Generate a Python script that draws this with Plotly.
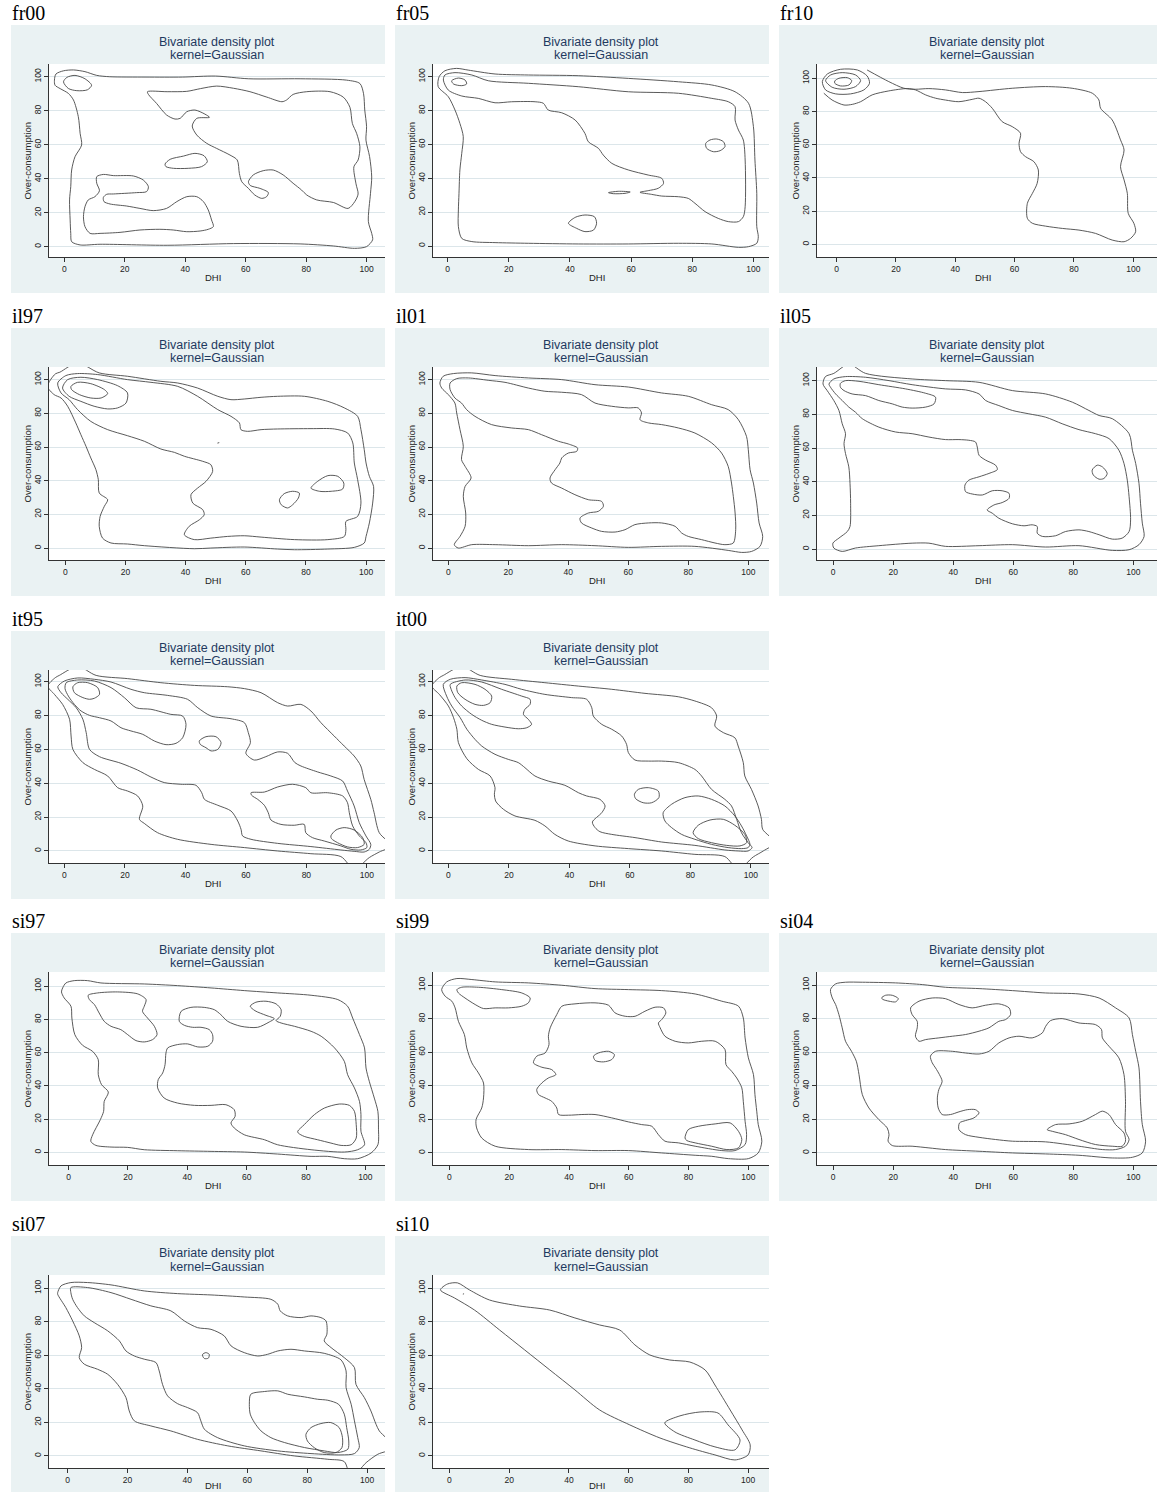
import plotly.graph_objects as go

W, H = 1157, 1492

# ---------------- data: contour paths (DHI, Over-consumption) ----------------
fr00 = [
    [(-2.8,101.6),(-0.3,103.5),(3,104),(6.8,103),(10.7,100.8),(15,100),(27,99.8),(39,99.8),(50,100.4),(61,98.8),(78,98.8),(93.4,98),(97.8,96),(99,90),(99.4,80.4),(100,70.6),(99.8,62.7),(101,53),(101.7,41),(101.3,31.4),(100.6,14.7),(101.7,7.8),(102,4),(100,0),(96,-1),(89,0.4),(78,1.6),(56,1.8),(34,0.8),(11.8,1.4),(5.2,1),(2.4,2.9),(2.1,7.8),(1.9,15.7),(1.7,27.5),(2.1,35.3),(2.4,45.1),(3.5,52.9),(5.7,59.8),(5.2,66.7),(4.6,76.5),(3,86.3),(1.3,90.2),(-1.4,93),(-3.1,95),(-3.3,98),(-2.8,101.6)],
    [(-0.3,97),(0.8,99.6),(3.5,100.8),(6.8,98.8),(9,95),(7.6,92.3),(4.1,91.8),(1.3,93.1),(-0.3,97)],
    [(27.5,91.2),(34,91.2),(40.5,91.4),(45,93),(50.4,94.5),(56,93.2),(61.4,91.2),(67,88),(72,85.3),(73.5,86.3),(75.7,89.6),(80.2,91.2),(87.9,91.2),(92.3,88),(94.5,82),(95.3,72.5),(96.7,66.7),(97.8,58.8),(97.2,51),(95.8,47),(96.5,37),(97.2,31),(96.1,26.5),(93.9,22.5),(89,26),(83.5,27.5),(80.2,30.4),(78.5,33.3),(75.7,37.3),(72.4,42.2),(69.1,45.1),(65.8,44.7),(62.5,42.2),(60.9,38.2),(61.5,36),(64.7,34.3),(67.5,31.8),(66.9,29.4),(65.3,28.4),(63,30.4),(60.9,34.3),(58.7,38.2),(57.9,43.1),(57.2,51),(54.8,53.9),(50.4,57.8),(47.1,60.8),(43.8,65.7),(42.3,71),(43.8,75.5),(48,76.1),(46.5,78),(43.2,80.4),(40.5,79.4),(38.3,75.5),(36.6,75.1),(33.8,77.5),(30.5,84.3),(27.8,89.6),(27.5,91.2)],
    [(33.3,48.6),(35,51.4),(39.4,53.3),(43.2,54.9),(46.2,53.5),(47.3,50),(45.4,47.1),(41,46.1),(36.1,46.1),(33.6,47.1),(33.3,48.6)],
    [(10.7,41.2),(12.9,42.5),(16.2,41.8),(22.8,41.6),(26.1,39.2),(27.8,35.3),(27.2,32.4),(23.9,31.8),(16.2,31),(14,30.8),(12.9,29),(13.1,26.5),(15.1,25.1),(20.6,23.9),(25,22.5),(29.4,21.2),(33.8,22.5),(37.2,26.5),(40.5,29.4),(43.8,29.4),(46,26.5),(47.6,21.6),(48.7,15.7),(49.3,11.8),(47.6,10.2),(44.9,9.2),(40.5,8.8),(36,9.8),(31.6,10.2),(25,9.8),(18.4,8.4),(11.8,7.8),(8.5,7.8),(6.8,11.8),(6.3,17.6),(6.8,23.5),(7.9,27.5),(10.1,29.4),(11.6,32.9),(10.7,37.3),(10.7,41.2)],
]

fr05 = [
    [(-3.1,94.1),(-2.8,100),(-0.9,103.5),(2.9,104.9),(6.7,103.9),(15.5,101.6),(26.4,101),(42.7,100.6),(59.1,99),(75.5,97),(86.4,95.1),(94,91.1),(98.4,84.3),(100,70.5),(100.5,50.8),(101.1,31.1),(101.1,11.4),(101.6,5.5),(101.1,1.6),(98.4,-0.4),(95.1,-0.8),(86.4,1.2),(75.5,1.6),(59.1,1.2),(42.7,1.2),(26.4,1.6),(15.5,2),(7.9,2.6),(4.6,4.5),(3.5,11.4),(3.5,21.3),(3.7,31.1),(4,44.9),(4.6,54.7),(5.1,64.6),(4,72.4),(2.4,80.3),(0.2,88.2),(-3.1,94.1)],
    [(-1.4,98),(-0.9,101),(2.4,102.4),(7.9,101),(13.3,97.6),(26.4,96.1),(42.7,94.1),(59.1,91.1),(75.5,90.2),(86.4,87.2),(91.8,85.2),(94,82.3),(94,74.4),(95.1,68.5),(96.7,62.6),(97.3,50.8),(97.3,23.2),(96.7,17.3),(95.1,14.4),(91.8,14.4),(88.5,16.3),(84.2,20.3),(80.9,25.2),(78.7,28.1),(75.5,29.1),(70,29.5),(66.7,30.5),(62.9,31.7),(65.6,32.7),(68.9,34.1),(70.6,37),(70,40),(65.6,41.9),(59.1,44.9),(53.7,48.8),(50.9,53.7),(49.3,57.7),(46,61.6),(44.9,66.5),(41.7,74.4),(37.3,78.7),(32.9,80.3),(31.3,84.3),(28.6,85.2),(20.9,85.2),(15.5,84.6),(10,87.2),(4.6,88.6),(0.2,92.1),(-1.4,98)],
    [(1.3,97.6),(3.5,99.2),(5.7,98),(6.2,95.7),(4.6,94.7),(1.9,95.7),(1.3,97.6)],
    [(84.4,60.6),(85.8,62.6),(88,63.2),(90.2,61.6),(90.7,58.7),(89.1,56.3),(86.9,55.7),(84.7,57.7),(84.4,60.6)],
    [(39.5,13.4),(41.7,16.9),(44.9,18.3),(48,17.3),(48.7,13.4),(47.7,9.4),(44.9,8.5),(42.2,10.4),(39.5,13.4)],
    [(52.6,31.5),(55.8,32.3),(59.7,31.9),(58,31.1),(54.2,30.9),(52.6,31.5)],
]

fr10 = [
    [(-0.6,98.4),(0.8,100),(3.6,100.4),(5.1,98.6),(4.2,96),(1.3,95.4),(-0.6,97),(-0.6,98.4)],
    [(-3.7,98.6),(-2,102),(1.9,103.4),(6.4,102),(8.1,98.6),(6.4,95),(2.5,93.4),(-1.5,94.6),(-3.7,98.6)],
    [(-4.8,98),(-3.1,102.6),(1.3,105.4),(7,105),(10.3,101.4),(11.1,97),(9.2,93),(4.7,90.6),(-0.3,90.6),(-3.7,93),(-4.8,98)],
    [(10.3,105),(17.6,98),(22.7,94),(26.6,93.4),(31.1,93.8),(36.7,93),(42.4,91.4),(48,92),(59.2,94),(70.4,95),(79.4,94),(86.2,91),(88.4,87),(89,81.9),(92.9,74.9),(95.7,62.9),(96.9,56.8),(95.7,46.8),(96.9,38.8),(98,30.7),(98.3,18.7),(100.2,12.7),(100.8,7.6),(99.1,3.6),(96.9,1.6),(92.9,2.6),(87.3,6.6),(81.7,8.6),(76.1,9.6),(70.4,11),(66,12.7),(64.3,15.7),(64.3,24.7),(66,30.7),(67.6,36.7),(68,44.8),(66.5,49.8),(63.7,52.8),(62,55.8),(61.5,60.8),(62,66.9),(59.2,70.9),(55.8,73.9),(52.5,81.9),(50.2,85.9),(48,88),(45.7,87.3),(41.2,85.9),(36.7,86.9),(33.4,88),(30,90),(26.6,93),(23.8,93.8),(17.6,92.4),(12,90),(8.1,85.9),(5.3,84.3),(2.5,83.9),(-1.5,86.9),(-4.3,91)],
]

il97 = [
    [(11.3,104),(20.7,102),(31.8,99),(37.4,98),(44,95),(50.7,90.1),(55.1,88.1),(59.5,88.5),(65.1,89.5),(70.6,90.1),(79.5,90.1),(87.3,87.1),(92.8,83.2),(97.2,78.2),(98.3,70.3),(99.4,58.4),(100,50.5),(101.1,42.6),(102.5,36.6),(102.2,26.7),(101.1,14.9),(100,6.9),(99.4,3),(96.1,0.4),(87.3,-0.6),(76.2,-1),(70.6,-0.6),(59.5,0.6),(48.4,0),(42.9,-0.4),(26.3,1.4),(20.7,2.4),(15.2,3),(12.4,5.9),(11.3,12.9),(11.6,18.8),(13,24.8),(14.1,28.7),(11.3,32.7),(11,40.6),(10.2,46.5),(8.5,53.5),(6.9,60.4),(5.2,67.3),(3.5,74.3),(0.8,84.2),(-1.4,89.1),(-3.7,91.1),(-5.9,96),(-3.3,103.4),(-1.8,104.4),(4.1,110),(11.3,104)],
    [(-2.5,98),(0.2,102.4),(4.1,103.6),(10.8,103),(20.7,100),(28.5,98.4),(37.4,96),(44,90.1),(50.7,82.2),(55.1,78.2),(57.9,74.3),(58.4,70.3),(60.6,69.3),(65.1,70.3),(70.6,70.7),(81.7,70.9),(89.5,70.7),(93.9,68.3),(95.6,62.4),(96.1,50.5),(97.2,40.6),(98.3,26.7),(97.2,18.8),(93.3,15.8),(93.3,10.9),(92.8,6.9),(87.3,5),(76.2,5),(65.1,6.5),(59.5,7.3),(54,6.9),(48.4,5.9),(42.9,5),(39.6,7.9),(41.2,12.9),(44.6,16.8),(46.2,19.8),(45.7,22.8),(42.4,26.7),(41.8,31.7),(44,35.6),(46.8,39.6),(49,45.5),(48.4,49.5),(45.7,51.5),(39.6,54.5),(36.3,56.8),(31.8,58.8),(26.3,63.4),(20.7,66.7),(14.1,70.3),(8.5,75.2),(4.1,82.2),(1.3,88.1),(-1.4,92.1),(-2.5,98)],
    [(-0.9,95),(0.8,100),(5.2,101.4),(10.8,100),(17.4,96.4),(20.7,92.1),(20.2,86.1),(17.4,83.2),(14.1,82.6),(9.6,84.2),(5.2,87.1),(1.3,90.1),(-0.9,95)],
    [(1.9,96),(4.1,98.4),(8.5,97.6),(13,94.1),(14.1,91.7),(11.9,89.1),(8.5,89.1),(4.7,91.1),(2.1,94.1),(1.9,96)],
    [(71.2,28.7),(72.8,32.3),(75.6,33.7),(77.8,32.7),(77.5,29.7),(75.6,25.7),(73.9,23.8),(71.8,25.7),(71.2,28.7)],
    [(81.7,35.6),(83.9,39.6),(87.3,43),(90.6,42.6),(92.6,38.6),(92.2,35),(88.4,33.7),(84.5,33.7),(81.7,35.6)],
    [(50.6,62.3),(51.2,62.6)],
]

il01 = [
    [(-2.8,98),(-1.7,102),(1.7,103.6),(7.8,104),(15.6,102.4),(26.7,101),(37.8,100),(48.9,97),(60,95.6),(71.1,92.1),(80,90.1),(87.8,85.1),(93.3,82.2),(96.7,76.2),(99.4,66.3),(100,58.4),(100.6,46.5),(101.7,38.6),(102.8,26.7),(103.6,14.9),(104.8,6.9),(103.9,1),(101.1,-2),(97.8,-2.6),(93.3,-1.4),(82.2,1),(71.1,1),(60,0.4),(48.9,1.4),(37.8,2),(26.7,1.4),(15.6,2),(7.8,2),(3.3,0),(2,2),(3.9,6.9),(5.6,12.9),(5.8,20.8),(5,30.7),(5.6,36.6),(7.6,41.6),(5.6,48.5),(4.4,52.5),(5,60.4),(3.9,70.3),(2.8,80.2),(2.2,86.1),(0,91.1),(-2.2,95),(-2.8,98)],
    [(0.6,98),(2.8,100.6),(6.7,101),(13.3,99.6),(18.9,98.4),(26.7,95),(32.2,93.1),(37.8,92.5),(44.4,91.1),(48.9,86.1),(54.4,84.2),(60,83.2),(63.3,83.2),(64.4,80.2),(63.9,76.2),(66.7,74.3),(71.1,73.3),(76.7,71.3),(82.2,68.3),(87.8,62.4),(91.1,56.4),(93.3,48.5),(94.4,38.6),(95,30.7),(95.6,20.8),(95.8,10.9),(95,3),(92.2,2),(88.9,3),(84.4,5),(80,6.9),(77.8,8.9),(75.6,12.9),(71.1,14.9),(66.7,14.9),(62.2,13.9),(58.9,10.9),(55.6,9.5),(51.1,9.9),(47.8,11.9),(44.4,14.9),(43.9,17.8),(46.7,20.8),(50,21.8),(51.7,24.8),(51.1,27.7),(46.7,28.7),(42.2,31.7),(37.8,35.6),(34.4,38.6),(33.9,41.6),(35.6,46.5),(37.2,50.5),(37.8,53.5),(40,56.4),(42.8,57.4),(43.1,59.4),(40,61.8),(36.7,63.4),(31.1,67.3),(26.7,70.3),(21.1,71.3),(14.4,73.3),(8.9,78.2),(6.1,82.2),(4.4,86.1),(2.2,89.1),(0.6,94.1),(0.6,98)],
]

il05 = [
    [(10.8,104.3),(26.3,101),(37.4,100),(48.6,99),(59.7,94.1),(70.8,92.1),(79.7,87.2),(85.2,82.3),(88.6,79.3),(93,77.4),(98.6,68.5),(99.7,58.7),(100.8,50.8),(101.9,39),(102.4,27.2),(103,15.4),(103.6,7.5),(101.9,2.6),(98.6,-0.4),(93,-0.8),(81.9,2),(70.8,1.2),(59.7,2.6),(48.6,2),(37.4,1.6),(31.9,3.5),(26.3,3.5),(15.2,2),(7.4,0.6),(3,-1.4),(0.2,0.6),(-0.1,3.5),(1.9,6.5),(4.7,10.4),(5.6,13.4),(5.8,27.2),(5.6,39),(5.2,48.8),(4.1,56.7),(3.6,62.6),(4.1,68.5),(3,74.4),(1.9,82.3),(0.2,88.2),(-2,94.1),(-3.4,98),(-2.6,102.4),(0.2,104.3),(5.2,109.8),(10.8,104.3)],
    [(-1.4,98),(0.2,101),(4.1,102.4),(10.8,102),(18.6,100),(26.3,97.6),(37.4,95.1),(44.1,94.5),(48.6,92.1),(50.8,88.2),(55.2,85.2),(59.7,82.3),(65.2,80.3),(70.8,78.3),(76.3,74.4),(81.9,70.9),(87.4,68.5),(91.9,65.6),(95.2,58.7),(96.9,50.8),(98,40.9),(98.6,31.1),(99.1,17.3),(98.6,10.4),(96.3,6.5),(93,5.9),(88.6,8.5),(85.2,10.4),(81.9,11.4),(77.4,10.4),(74.1,7.9),(69.7,7.5),(68,9.4),(68,13.4),(66.3,14.4),(63.6,13.8),(59.7,15),(55.2,18.3),(53,21.3),(51.3,23.2),(53.6,26.2),(56.3,27.6),(58.6,30.1),(58.6,33.1),(56.3,34.6),(53,34.6),(49.7,32.1),(46.3,32.7),(44.1,34.1),(43.9,38),(45.2,40.9),(48.6,42.9),(51.9,44.9),(54.7,47.2),(54.1,49.8),(50.8,52.8),(48.6,55.7),(48,60.6),(47.4,63.6),(45.2,64.6),(41.9,65),(37.4,65),(31.9,66.5),(26.3,68.5),(20.8,69.5),(15.2,72.4),(9.7,77.4),(7.4,81.3),(5.2,84.3),(3,88.2),(0.8,92.1),(-0.9,96.1),(-1.4,98)],
    [(2.4,98.4),(4.1,100),(8.6,99.6),(15.2,97.6),(24.1,95.1),(30.8,92.5),(34.1,90.2),(33.6,86.2),(30.8,84.3),(26.3,83.7),(23,84.3),(19.7,86.2),(15.2,88.2),(10.8,91.1),(6.3,92.1),(3.6,94.1),(2.4,96.1),(2.4,98.4)],
    [(86.3,46.9),(88,49.8),(89.7,48.8),(91.3,44.9),(90.2,41.9),(88.6,41.5),(86.7,43.9),(86.3,46.9)],
]

it95 = [
    [(10.5,103.7),(20.9,101.8),(31.9,99.4),(43,97.8),(54,97),(59.5,95.9),(65,93.5),(70.5,87.6),(73.8,85.6),(78.2,86.6),(81.5,82.7),(84.8,75.8),(89.2,67.9),(92.5,62),(95.8,56.1),(98,50.2),(99.1,42.3),(101.3,30.5),(102.4,22.6),(104.1,10.8),(108,3),(104.1,-0.6),(100.8,-3.9),(95.8,-10.8),(91.4,-3.3),(81.5,-1.6),(70.5,0),(59.5,2),(48.5,3.9),(37.4,6.9),(30.8,10.8),(26.4,16.3),(24.8,18.7),(25.9,26.6),(24.2,32.5),(20.9,35.4),(17.6,37.4),(14.3,44.3),(9.9,48.2),(6.1,52.2),(2.8,60),(2.2,67.9),(1.7,77.8),(-0.6,86.6),(-3.3,92.5),(-5.5,97.4),(-3,102.4),(-1.7,103.7),(4.4,109),(10.5,103.7)],
    [(-2.2,97),(0,100.4),(4.4,102.2),(9.9,101.4),(15.4,99.8),(22,95.5),(26.4,93.5),(34.1,91.9),(40.7,89.6),(44.1,84.6),(48.5,79.7),(55.1,78.1),(59.5,75.8),(60.8,69.9),(61.5,64),(60,57.7),(62.8,53.7),(66.6,55.7),(70.5,58.5),(73.8,57.7),(76.2,52.2),(78.2,50.2),(83.7,46.7),(88.1,44.3),(92,41.3),(93.6,35.4),(95.8,26.6),(97.5,16.7),(99.7,8.9),(101.3,3.9),(100.8,1),(99.1,-0.6),(95.8,-0.2),(91.4,0.6),(81.5,2.6),(70.5,4.5),(61.7,6.9),(58.9,8.9),(58.4,12.8),(57.3,17.7),(55.1,23.6),(50.7,27),(46.3,30.5),(45.4,34.4),(43.5,38.8),(38.5,39.4),(33,40.4),(28.6,43.7),(24.2,47.8),(18.7,51.8),(11.6,55.7),(8.3,60),(7.2,69.9),(6.1,77.8),(3.9,84.6),(1.1,89.6),(-1.1,93.5),(-2.2,97)],
    [(0.6,99.4),(4.4,101),(9.9,100.4),(15.4,96.5),(19.8,90.6),(23.7,84.6),(28.6,83.7),(35.2,80.7),(39.1,79.7),(40.2,74.8),(39.1,66.9),(36.9,63.6),(33.6,62.8),(29.7,65),(25.9,68.9),(22,70.9),(18.7,72.8),(15.4,76.8),(11.6,78.7),(8.3,80.1),(5.5,82.7),(3.3,86.6),(1.3,91.5),(0.2,95.9),(0.6,99.4)],
    [(2.8,97),(4.4,99.4),(7.7,99.4),(11,96.5),(11.6,92.5),(9.9,90.2),(8.3,89.6),(6.1,90.6),(3.3,93.5),(2.8,97)],
    [(44.6,65),(46.8,67.5),(50.1,67.5),(51.8,64),(50.7,60),(48.5,59.1),(46.8,61),(44.9,63),(44.6,65)],
    [(61.7,34.4),(66.1,34.8),(70.5,37.8),(75.4,39.4),(79.8,37.4),(81.5,34.4),(87,34.4),(92,32.5),(93.6,28.5),(94.2,22.6),(95.3,14.8),(97.5,8.9),(99.7,4.9),(100,2),(98,0.6),(94.7,1),(91.4,3),(85.9,5.9),(82,7.9),(79.8,10.8),(79.3,15.7),(76,15.2),(71.6,15.7),(68.3,18.3),(67.4,22.6),(66.1,27),(63.9,30.5),(61.9,32.9),(61.7,34.4)],
    [(88.1,8.9),(89.8,12.4),(92.5,13.8),(95.8,12.4),(98.6,7.9),(99.1,3.9),(96.9,2),(93.6,2.4),(90.3,4.9),(88.3,7.3),(88.1,8.9)],
]

it00 = [
    [(10.5,103.7),(20.9,101.4),(31.9,99.4),(43,97.4),(54,95.5),(65,93.1),(76,91.1),(81.5,88.6),(87,84.6),(88.7,79.7),(88.1,73.8),(90.9,69.9),(94.7,66.9),(95.8,62),(97.5,52.2),(98,44.3),(100.2,36.4),(102.4,26.6),(103.5,18.7),(103.9,12.8),(107.9,4.9),(104.1,0),(100.8,-3.5),(95.8,-10.8),(91.4,-3.3),(81.5,-2),(70.5,0),(59.5,1.4),(48.5,3),(39.6,5.9),(35.2,9.8),(31.9,14.8),(28.6,18.1),(22,20.7),(18.2,24.6),(15.6,29.5),(15.2,33.5),(15.4,37.4),(13.8,44.3),(9.9,48.2),(6.1,54.5),(3.3,64),(2.8,71.9),(1.7,78.7),(0,85.6),(-3,92.5),(-5.5,97.4),(-3,102.4),(-1.7,103.7),(4.4,109),(10.5,103.7)],
    [(-1.7,98.4),(0.6,101.4),(5.5,102.4),(11,101),(18.7,98.4),(24.2,95.5),(31.9,92.5),(40.7,90.6),(45.7,89.6),(47.4,84.6),(47.9,79.7),(50.7,74.8),(54,71.9),(57.3,67.9),(58.9,63),(59.5,58.1),(61.7,53.7),(66.1,53.1),(70.5,53.1),(76,52.2),(81.5,48.2),(83.7,44.3),(87,36.4),(91.4,30.5),(93.6,26.6),(95.3,18.7),(96.9,10.8),(99.1,4.9),(100.4,2),(99.1,0),(95.8,0),(91.4,0.6),(81.5,3.3),(70.5,5.3),(61.7,7.9),(54,9.8),(50.1,11.4),(48.5,13.8),(47.6,17.1),(50.7,22.6),(51.8,26.6),(50.1,30.5),(45.7,32.5),(43,34.4),(38.5,38.8),(33,41.3),(28.6,44.3),(25.3,49.2),(23.1,52.2),(19.8,54.1),(15.4,57.1),(11,62),(8.8,65.9),(6.1,71.9),(3.9,78.7),(1.1,85.6),(-0.6,91.5),(-1.7,98.4)],
    [(0.6,98.4),(5.5,101),(11,99.8),(17.6,95.5),(24.2,91.5),(27,89.6),(27,86.6),(25.3,83.7),(24.8,80.7),(26.4,77.8),(27.5,74.8),(25.9,72.8),(23.1,72.2),(18.7,73.2),(14.3,74.8),(11,77.2),(7.7,80.7),(4.4,85.6),(2.2,90.6),(0.9,95.5),(0.6,98.4)],
    [(2.8,97.4),(4.4,99.4),(8.8,98.4),(12.1,95.5),(14.3,91.5),(13.8,87.6),(11.6,86),(8.8,86.6),(5.5,89.6),(3.1,93.5),(2.8,97.4)],
    [(61.5,33.5),(62.8,36.4),(66.1,37.4),(69.4,35.4),(69.6,31.5),(67.2,28.5),(64.4,28.5),(61.9,30.9),(61.5,33.5)],
    [(71,22.6),(73.8,27.6),(78.2,31.5),(82.6,32.5),(87,30.5),(91.4,26.6),(94.7,20.7),(96.9,14.8),(98.6,8.9),(99.7,3.9),(99.1,2),(96.9,1.4),(92.5,2),(87,3.9),(81.5,6.9),(77.1,9.8),(73.8,13.8),(71.6,17.7),(71,22.6)],
    [(80.9,10.8),(82.6,15.2),(86.5,18.3),(90.9,18.7),(94.7,15.2),(98,9.8),(98.6,4.9),(96.4,3),(92,3.3),(87,4.9),(82.6,7.3),(80.9,10.8)],
]

si97 = [
    [(-2,99),(-0.9,102),(1.9,103.4),(6.4,103.4),(10.9,102),(25.5,101.4),(36.7,100.4),(48,99),(59.2,97.4),(70.4,96),(81.7,94.6),(90.7,92),(94,88),(95.7,80.9),(98,70.9),(99.7,62.9),(100.2,50.8),(101.3,42.8),(103,32.7),(104.2,24.7),(104.4,14.7),(104.2,4.6),(101.9,-0.4),(97.4,-3.8),(92.9,-3.8),(87.3,-2.4),(81.7,-2.4),(70.4,-1),(59.2,0.2),(48,0.6),(36.7,1),(25.5,1.6),(19.9,3),(14.3,3.2),(9.2,4.2),(7.5,6.6),(8.1,10.6),(10.7,19.7),(11.8,24.7),(12,30.7),(13.4,36.3),(11.1,40.8),(10,46.8),(10,55.8),(8.1,60.8),(4.7,64.5),(2.1,70.9),(1.1,80.9),(0.8,88),(-1.5,93),(-2.4,96.6),(-2,99)],
    [(37.3,78.9),(37.9,84.9),(41.2,87.3),(45.7,87.3),(49.1,85.9),(51.3,82.9),(53.6,78.9),(58.1,75.9),(63.7,75.3),(67.6,78.5),(69.3,80.5),(66.5,82.5),(62.8,85.3),(61.2,88),(63.1,90.4),(66.5,91),(69.9,89.4),(71.6,85.9),(71.3,81.9),(69.9,79.3),(71.6,77.9),(76.1,75.9),(81.7,72.9),(85.1,69.9),(89.6,62.9),(92.9,54.8),(94,46.8),(96.3,38.8),(98,30.7),(98.5,22.7),(98.5,12.7),(99.7,4.6),(97.4,1.6),(92.9,0.2),(81.7,1.6),(70.4,4.6),(66,7.6),(59.2,10.6),(55.8,14.7),(54.7,17.7),(56.1,21.7),(55.8,25.7),(53,28.7),(48,28.3),(42.4,28.3),(36.7,29.7),(32.2,32.7),(30,38.8),(30.2,43.8),(31.7,47.8),(32.5,52.8),(32.8,59.8),(33.4,62.9),(36.7,64.9),(40.1,65.3),(43.5,63.5),(46.9,63.9),(48.5,66.9),(48.5,70.9),(47.4,73.9),(44.6,75.3),(41.8,75.3),(39,76.5),(37.3,78.9)],
    [(6.6,94.6),(9.8,96),(16.5,96.6),(23.3,95.4),(26.1,92),(25.5,88),(24.9,84.9),(26.6,80.9),(28.9,75.9),(29.8,70.9),(28.3,67.9),(25.5,66.5),(22.7,67.3),(19.9,70.9),(17.6,73.9),(14.3,75.9),(12,78.9),(10.3,83.9),(8.7,89),(7,92),(6.6,94.6)],
    [(77.2,12.7),(79.4,16.7),(82.8,22.7),(86.2,26.7),(91.2,29.1),(94.6,28.3),(96.3,24.7),(96.9,16.7),(96.9,8.6),(95.2,4.6),(91.8,4.2),(88.4,5.6),(83.9,7.6),(79.4,9.6),(77.4,11.6),(77.2,12.7)],
]

si99 = [
    [(-2.6,97.4),(-0.9,102),(2.5,104),(7.5,103.4),(15.3,102),(26.4,101.4),(37.6,100),(48.7,98),(59.9,97.4),(71,96.8),(82.2,94.8),(91.1,90.5),(96.7,87.5),(98.3,80.5),(98.9,68.6),(100,56.7),(101.7,46.7),(102.2,34.8),(102.8,24.9),(103.3,16.9),(104.5,7),(103.3,0),(100,-3.4),(93.3,-3.4),(87.7,-2),(82.2,-1.4),(71,0),(59.9,1.4),(48.7,1.4),(37.6,2),(26.4,2),(15.3,4),(10.8,8.9),(9.1,14.9),(8.9,19.9),(10.8,26.8),(11.4,32.8),(11.4,41.7),(9.7,47.7),(7.5,53.7),(5.8,62.6),(5,70.6),(3,78.5),(1.9,86.5),(0.8,90.5),(-1.4,93.4),(-2.6,97.4)],
    [(2.5,97.4),(4.1,98.8),(9.7,98.8),(17.5,97.4),(24.2,95.4),(27,92.4),(26.4,89.5),(24.2,87.5),(19.7,86.5),(15.3,86.5),(11.4,86.1),(8.6,88.5),(5.2,92.4),(3,95.4),(2.5,97.4)],
    [(35.9,82.5),(37.6,87.5),(42,88.9),(48.7,89.5),(53.2,88.1),(55.4,83.5),(58.8,81.5),(62.1,81.5),(65.4,84.5),(68.8,86.9),(71.6,86.5),(72.4,83.5),(71,79.5),(69.9,77.5),(70.5,74.6),(72.1,69.6),(75.5,66.6),(79.9,65.6),(84.4,66.6),(88.9,66.6),(92.2,61.6),(92.5,52.7),(94.4,48.7),(96.1,44.7),(97.8,38.8),(98.3,30.8),(98.9,18.9),(99.4,10.9),(98.9,5),(95.5,1.4),(91.1,1.4),(82.2,4),(76.6,6),(72.1,7),(69.9,10.9),(67.7,15.9),(64.3,16.9),(59.9,18.5),(54.3,20.9),(48.7,22.9),(44.3,22.9),(39.8,22.5),(36.5,22.9),(35.9,26.8),(34.2,30.8),(32,32.8),(29.8,34.8),(29.2,37.8),(30.9,41.7),(33.1,44.7),(35.6,46.7),(34.2,49.7),(30.9,51.1),(28.1,53.7),(29.2,57.7),(32,59.6),(33.3,64.6),(33.1,69.6),(33.7,74.6),(35.9,82.5)],
    [(48.2,57.7),(49.8,59.6),(53.2,60.6),(55.2,58.6),(54.3,55.7),(51.5,54.3),(48.8,55.1),(48.2,57.7)],
    [(78.8,8.9),(79.9,13.9),(83.3,15.9),(88.9,17.3),(93.9,17.9),(96.7,12.9),(97.8,8),(96.7,3),(92.8,2),(87.7,4),(82.2,6),(79.4,7.4),(78.8,8.9)],
]

si04 = [
    [(-0.9,97.4),(0.8,100.8),(4.1,101.8),(9.7,101.8),(20.8,101.4),(29.7,100.4),(37.4,98.8),(48.6,98),(59.7,96.8),(70.8,95.4),(81.9,94.8),(88.6,92.4),(94.1,86.5),(98.6,80.5),(99.7,70.6),(100.8,60.6),(101.9,50.7),(102.4,30.8),(103,16.9),(104.1,7),(103,0),(99.7,-2.6),(93,-3),(81.9,-1.4),(70.8,-0.6),(59.7,0),(48.6,1),(37.4,2),(31.9,3),(26.3,4),(19.7,4.4),(18.3,7),(18.6,10.9),(18,14.9),(15.2,19.9),(11.9,26.8),(9.7,34.8),(8.6,46.7),(7.7,54.7),(6.1,60.6),(4.1,66.6),(3,74.6),(1.9,82.5),(0.8,88.5),(-0.3,92.4),(-0.9,97.4)],
    [(16.1,92.4),(17.4,94),(19.7,94),(21.7,92),(20.8,90.1),(18.6,90.5),(16.6,91.5),(16.1,92.4)],
    [(25.8,86.5),(28.6,90.5),(33,92.4),(37.4,92),(41.9,88.5),(46.3,86.5),(50.8,88.1),(55.2,88.9),(58.6,86.5),(59.1,82.5),(57.4,79.5),(55.2,78.5),(51.9,74.6),(48.6,72.6),(44.1,70.6),(39.7,69.6),(35.2,68.6),(30.8,67.6),(28.6,66.6),(27.4,69.6),(28,74.6),(28,78.5),(26.3,82.5),(25.8,86.5)],
    [(32.4,57.7),(34.1,60.6),(39.7,60.6),(44.1,59.6),(48.6,59),(51.9,60.6),(55.2,65.6),(58.6,68.6),(61.9,69.6),(66.3,68.6),(69.7,71.6),(70.8,75.5),(72.4,78.9),(76.3,80.1),(81.9,77.5),(87.4,76.5),(89.4,73.6),(89.7,68.6),(91.9,63.6),(95.2,56.7),(96.9,46.7),(97.4,30.8),(97.4,12.9),(98.6,8),(97.4,4),(94.1,2),(89.7,2),(81.9,4),(70.8,6.6),(59.7,7),(54.1,8),(48.6,9.3),(44.1,10.9),(41.9,13.9),(42.1,17.9),(44.1,19.3),(46.9,20.9),(48.6,23.9),(47.4,25.8),(44.7,25.8),(41.9,24.5),(39.1,22.9),(36.3,22.9),(35,26.8),(34.7,32.8),(35.2,37.8),(36.3,42.7),(35.4,46.7),(34.1,50.7),(33,53.7),(32.4,57.7)],
    [(71.3,13.9),(74.1,16.9),(78.6,17.3),(83,18.9),(87.4,22.9),(89.7,24.9),(91.9,22.9),(94.1,16.9),(96.9,11.9),(97.4,7),(96.3,4),(93,4),(87.4,5),(81.9,8),(77.4,10.9),(73,12.9),(71.3,13.9)],
]

si07 = [
    [(-3.3,97.4),(-2.2,101.4),(1.1,103.4),(6.7,103.4),(14.5,102),(25.6,98.4),(36.7,96.8),(47.9,96),(59,94.8),(67.9,93.4),(70.2,90.5),(71,86.5),(73.5,83.5),(78,82.5),(81.3,83.5),(84.6,82.5),(86.3,80.5),(86.6,72.6),(85.7,68.6),(88,64.6),(92.4,58.6),(95.8,52.7),(96.3,42.7),(99.1,34.8),(101.3,26.8),(103,18.9),(104.1,14.9),(109,5),(103.6,1),(99.7,-4),(94.7,-12.9),(92.4,-3.4),(86.9,-2),(75.7,0),(64.6,3),(53.5,6),(43.4,9.9),(34.5,14.9),(27.8,17.9),(22.3,20.9),(20.6,26.8),(19.5,34.8),(16.7,42.7),(13.4,48.7),(10,51.7),(5.6,54.7),(3.9,58.6),(4.7,64.6),(3.9,71.6),(1.7,80.5),(-0.6,88.5),(-3.3,96.4),(-3.3,97.4)],
    [(1.1,100.4),(6.7,100.4),(14.5,97.4),(21.2,93.4),(27.8,89.5),(34.5,86.5),(39,80.5),(43.4,76.5),(47.9,75.5),(52.3,71.6),(54.6,65.6),(59,61.6),(63.5,59.6),(66.8,60.6),(70.2,62.6),(74.6,63.6),(79.1,62.6),(85.7,61.2),(91.3,57.3),(93,50.7),(93,40.8),(94.7,30.8),(95.8,20.9),(96.9,10.9),(97.4,5),(95.8,1.4),(91.3,0.6),(81.3,1.4),(70.2,3),(59,6),(50.1,10.9),(45.7,15.9),(44.5,20.9),(43.4,25.8),(40.1,28.8),(36.7,31.2),(33.4,35.8),(31.7,42.7),(30.6,50.7),(29.5,55.7),(25.6,57.7),(22.3,59.6),(19.5,62.6),(17.3,68.6),(13.4,74.6),(8.9,79.5),(5.6,83.5),(3.3,88.5),(1.7,93.4),(1.1,97.4),(1.1,100.4)],
    [(60.7,30.8),(61.2,36.8),(65.7,38.4),(70.2,38.8),(73.5,36.8),(79.1,35.2),(83.5,33.8),(86.9,33.2),(90.5,30.8),(92.4,24.9),(93.2,16.9),(93.9,8.9),(93.6,4),(90.2,2),(85.7,3),(79.1,5),(72.4,8),(67.9,10.9),(64.6,14.9),(62.4,19.9),(61,24.9),(60.7,30.8)],
    [(79.6,12.9),(81.3,16.9),(84.6,19.3),(87.9,19.9),(90.7,16.9),(91.8,10.9),(91.6,4.9),(89.6,2),(85.7,2),(82.4,4.9),(80.1,8.9),(79.6,12.9)],
    [(45.1,60.6),(46.2,61.6),(47.3,60.6),(47,58.3),(45.7,58.1),(45.1,59.6),(45.1,60.6)],
]

si10 = [
    [(-3,99),(-0.7,102.5),(2.7,103.2),(6.7,99),(13.4,93),(23.5,89.4),(33.6,87),(42,82.3),(50.3,78.1),(57,75.1),(62.1,66.2),(67.1,60.2),(73.8,57.2),(80.5,56),(85.6,51.3),(88.9,42.3),(94,27.4),(98,15.5),(100.7,6.6),(100,0.6),(95.6,-2.4),(88.9,0.6),(80.5,4.8),(70.5,10.7),(60.4,18.5),(50.3,27.4),(42,39.4),(33.6,51.3),(25.2,63.2),(16.8,75.1),(8.4,87),(1.7,94.2),(-3,99)],
    [(72.1,19.7),(77.2,23.9),(83.9,26.2),(89.9,25.6),(93.3,18.5),(97.3,9.5),(95.6,3.6),(88.9,5.4),(82.2,9.5),(75.5,14.3),(72.1,19.7)],
    [(4.5,96.5),(4.9,96.7)],
]

# panel: name, contours, column, row, x range, y range
PANELS = [
    ("fr00", fr00, 0, 0, [-5.1, 106.1], [-6.1, 107.5]),
    ("fr05", fr05, 1, 0, [-4.8, 105.1], [-6.5, 107.5]),
    ("fr10", fr10, 2, 0, [-6.6, 108.0], [-7.6, 108.6]),
    ("il97", il97, 0, 1, [-5.4, 106.3], [-7.1, 107.5]),
    ("il01", il01, 1, 1, [-5.1, 106.9], [-7.1, 107.5]),
    ("il05", il05, 2, 1, [-5.4, 107.9], [-6.5, 108.1]),
    ("it95", it95, 0, 2, [-5.1, 106.0], [-7.1, 106.9]),
    ("it00", it00, 1, 2, [-5.1, 106.0], [-7.1, 106.9]),
    ("si97", si97, 0, 3, [-6.6, 106.6], [-7.6, 108.6]),
    ("si99", si99, 1, 3, [-5.5, 106.9], [-7.2, 107.9]),
    ("si04", si04, 2, 3, [-5.4, 107.9], [-7.2, 107.9]),
    ("si07", si07, 0, 4, [-6.2, 106.0], [-7.2, 107.9]),
    ("si10", si10, 1, 4, [-5.5, 107.0], [-7.2, 107.9]),
]

TICKS = [0, 20, 40, 60, 80, 100]
TITLE1 = "Bivariate density plot"
TITLE2 = "kernel=Gaussian"
XTITLE = "DHI"
YTITLE = "Over-consumption"

# ---------------- layout geometry (pixels) ----------------
COL_BOX = [(11, 385), (395, 769), (779, 1157)]
COL_PLOT = [(49, 385), (433, 769), (817, 1157)]
ROW_TOP = [25, 328, 631, 933, 1236]
BOX_BG = "#EAF2F3"
GRID = "#DCE6EA"
TITLE_COL = "#1F3A5F"
LINE_COL = "#474747"
SANS = "Liberation Sans, Arial, sans-serif"
SERIF = "Liberation Serif, Times New Roman, serif"

def fx(px):
    return px / W

def fy(py):
    return 1 - py / H

fig = go.Figure()
shapes = []
annotations = []
layout_axes = {}

for i, (name, curves, c, r, xr, yr) in enumerate(PANELS):
    k = i + 1
    xa = "x" if k == 1 else f"x{k}"
    ya = "y" if k == 1 else f"y{k}"
    bt = ROW_TOP[r]
    bx0, bx1 = COL_BOX[c]
    px0, px1 = COL_PLOT[c]
    py0, py1 = bt + 39, bt + 232

    shapes.append(dict(type="rect", xref="paper", yref="paper",
                       x0=fx(bx0), x1=fx(bx1), y0=fy(min(bt + 268, H)), y1=fy(bt),
                       fillcolor=BOX_BG, line=dict(width=0), layer="below"))
    shapes.append(dict(type="rect", xref="paper", yref="paper",
                       x0=fx(px0), x1=fx(px1), y0=fy(py1), y1=fy(py0),
                       fillcolor="white", line=dict(width=0), layer="below"))

    layout_axes["xaxis" if k == 1 else f"xaxis{k}"] = dict(
        domain=[fx(px0), fx(px1)], range=xr, anchor=ya, showgrid=False, zeroline=False,
        showline=True, linecolor="#333333", linewidth=1, ticks="outside", ticklen=4,
        tickcolor="#333333", tickvals=TICKS, tickfont=dict(family=SANS, size=8.5, color="#222222"),
        fixedrange=True)
    layout_axes["yaxis" if k == 1 else f"yaxis{k}"] = dict(
        domain=[fy(py1), fy(py0)], range=yr, anchor=xa, showgrid=True, gridcolor=GRID, gridwidth=1,
        zeroline=False, showline=True, linecolor="#333333", linewidth=1, ticks="outside", ticklen=4,
        tickcolor="#333333", tickvals=TICKS, tickangle=-90,
        tickfont=dict(family=SANS, size=8.5, color="#222222"), fixedrange=True)

    for curve in curves:
        fig.add_trace(go.Scatter(
            x=[p[0] for p in curve], y=[p[1] for p in curve], xaxis=xa, yaxis=ya,
            mode="lines", line=dict(color=LINE_COL, width=0.9, shape="spline", smoothing=0.8),
            hoverinfo="skip", showlegend=False))

    cx = (px0 + px1) / 2
    dhi_y = min(bt + 252.5, H - 7)
    annotations += [
        dict(text=name, xref="paper", yref="paper", x=fx(bx0 - 1), y=fy(bt - 12),
             xanchor="left", yanchor="middle", showarrow=False,
             font=dict(family=SERIF, size=20, color="black")),
        dict(text=TITLE1, xref="paper", yref="paper", x=fx(cx), y=fy(bt + 17),
             xanchor="center", yanchor="middle", showarrow=False,
             font=dict(family=SANS, size=12.5, color=TITLE_COL)),
        dict(text=TITLE2, xref="paper", yref="paper", x=fx(cx), y=fy(bt + 30.5),
             xanchor="center", yanchor="middle", showarrow=False,
             font=dict(family=SANS, size=12.5, color=TITLE_COL)),
        dict(text=XTITLE, xref="paper", yref="paper", x=fx(px0 + 0.488 * (px1 - px0)), y=fy(dhi_y),
             xanchor="center", yanchor="middle", showarrow=False,
             font=dict(family=SANS, size=9.5, color="#222222")),
        dict(text=YTITLE, xref="paper", yref="paper", x=fx(px0 - 22), y=fy((py0 + py1) / 2),
             xanchor="center", yanchor="middle", showarrow=False, textangle=-90,
             font=dict(family=SANS, size=9.5, color="#222222")),
    ]

fig.update_layout(
    width=W, height=H, margin=dict(l=0, r=0, t=0, b=0),
    paper_bgcolor="white", plot_bgcolor="rgba(0,0,0,0)",
    shapes=shapes, annotations=annotations, showlegend=False,
    **layout_axes)

fig.write_html("out.html", config={"displayModeBar": False, "staticPlot": True},
               post_script="document.body.style.margin='0px';")
